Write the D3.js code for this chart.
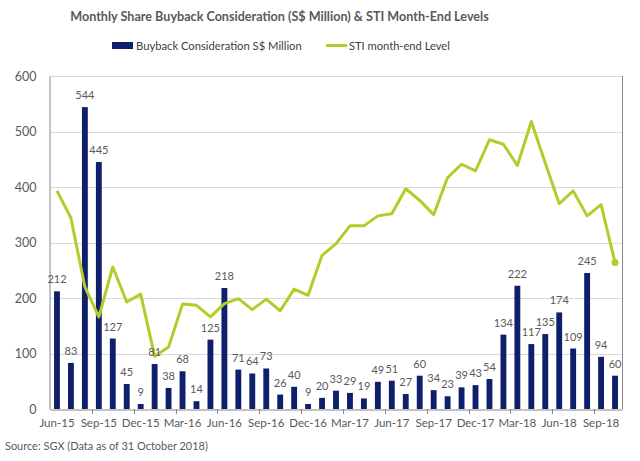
<!DOCTYPE html>
<html><head><meta charset="utf-8">
<script src="https://cdn.jsdelivr.net/npm/d3@7"></script>
<style>body{margin:0;background:#fff} svg{display:block} text{font-family:Lato,'Open Sans',sans-serif}</style>
</head><body><svg id="c" width="640" height="461"></svg>
<script>
const months = ["Jun-15","Jul-15","Aug-15","Sep-15","Oct-15","Nov-15","Dec-15","Jan-16","Feb-16","Mar-16","Apr-16","May-16","Jun-16","Jul-16","Aug-16","Sep-16","Oct-16","Nov-16","Dec-16","Jan-17","Feb-17","Mar-17","Apr-17","May-17","Jun-17","Jul-17","Aug-17","Sep-17","Oct-17","Nov-17","Dec-17","Jan-18","Feb-18","Mar-18","Apr-18","May-18","Jun-18","Jul-18","Aug-18","Sep-18","Oct-18"];
const buyback = [212,83,544,445,127,45,9,81,38,68,14,125,218,71,64,73,26,40,9,20,33,29,19,49,51,27,60,34,23,39,43,54,134,222,117,135,174,109,245,94,60];
const sti = [3317,3203,2913,2787,2997,2850,2883,2622,2661,2841,2836,2787,2843,2864,2818,2862,2813,2904,2878,3046,3095,3170,3170,3212,3221,3326,3277,3217,3373,3429,3401,3532,3513,3424,3609,3434,3263,3317,3212,3259,3016];
const yTicks = [0,100,200,300,400,500,600];
const xTickLabels = months.filter((d,i)=>i%3===0);
const titleText = "Monthly Share Buyback Consideration (S$ Million) & STI Month-End Levels";
const seriesNames = ["Buyback Consideration S$ Million","STI month-end Level"];
const sourceText = "Source: SGX (Data as of 31 October 2018)";

const svg = d3.select("#c");
const L=50, R=622, T=76, B=409;
const barColor="#0f1f6b", lineColor="#b4cc2b", grey="#595959";

const xb = d3.scaleBand().domain(months).range([L,R]).padding(0);
const xbar = d3.scaleBand().domain(months).range([L,R]).paddingInner(0.58).paddingOuter(0.29);
const y = d3.scaleLinear().domain([0,600]).range([B,T]);
const y2 = d3.scaleLinear().domain([2400,3800]).range([B,T]);

function fit(sel,w){const l=sel.node().getComputedTextLength();const fs=parseFloat(sel.attr("font-size"));sel.attr("font-size",fs*w/l);}

// gridlines
svg.append("g").selectAll("line").data(yTicks.filter(d=>d>0)).join("line")
  .attr("x1",L).attr("x2",R).attr("y1",d=>Math.round(y(d))+0.5).attr("y2",d=>Math.round(y(d))+0.5)
  .attr("stroke","#d9d9d9").attr("stroke-width",1);

// y axis
const ya = svg.append("g").attr("transform",`translate(${L-0.5},0)`)
  .call(d3.axisLeft(y).tickValues(yTicks).tickSize(0).tickPadding(13));
ya.select(".domain").attr("stroke","#868686");
ya.selectAll("text").attr("font-size",12.5).attr("fill",grey).attr("font-family","Lato");

// right axis line
svg.append("line").attr("x1",R+0.5).attr("x2",R+0.5).attr("y1",T).attr("y2",B).attr("stroke","#868686");

// bars
svg.append("g").selectAll("rect").data(months).join("rect")
  .attr("x",(d)=>xbar(d)).attr("width",xbar.bandwidth())
  .attr("y",(d,i)=>y(buyback[i])).attr("height",(d,i)=>B-y(buyback[i]))
  .attr("fill",barColor);

// x axis
const xa = svg.append("g").attr("transform",`translate(0,${B+0.5})`)
  .call(d3.axisBottom(xb).tickValues(xTickLabels).tickSize(0).tickPadding(9));
xa.select(".domain").attr("stroke","#868686");
xa.selectAll("text").attr("font-size",11.5).attr("fill",grey).attr("font-family","Lato");
svg.append("g").selectAll("line").data(months.filter((d,i)=>i%3===0&&i>0)).join("line")
  .attr("x1",d=>Math.round(xb(d))+0.5).attr("x2",d=>Math.round(xb(d))+0.5)
  .attr("y1",B).attr("y2",B+5).attr("stroke","#868686");

// line
const line = d3.line().x((d,i)=>xb(months[i])+xb.bandwidth()/2).y(d=>y2(d));
svg.append("path").datum(sti).attr("d",line).attr("fill","none")
  .attr("stroke",lineColor).attr("stroke-width",3).attr("stroke-linejoin","round");
svg.append("circle").attr("cx",xb(months[months.length-1])+xb.bandwidth()/2)
  .attr("cy",y2(sti[sti.length-1])).attr("r",3.5).attr("fill",lineColor);

// bar labels
svg.append("g").selectAll("text").data(months).join("text")
  .attr("x",d=>xbar(d)+xbar.bandwidth()/2).attr("y",(d,i)=>y(buyback[i])-8)
  .attr("text-anchor","middle").attr("font-size",11).attr("fill",grey)
  .text((d,i)=>buyback[i]);

// title
const t = svg.append("text").attr("x",279.5).attr("y",21).attr("text-anchor","middle")
  .attr("font-size",14).attr("font-weight","bold").attr("fill",grey).text(titleText);
fit(t,419);

// legend
svg.append("rect").attr("x",112).attr("y",42).attr("width",21).attr("height",7).attr("fill",barColor);
const l1 = svg.append("text").attr("x",136).attr("y",50).attr("font-size",13).attr("fill","#404040").text(seriesNames[0]);
fit(l1,166);
svg.append("line").attr("x1",326).attr("x2",347).attr("y1",45.5).attr("y2",45.5).attr("stroke",lineColor).attr("stroke-width",3);
const l2 = svg.append("text").attr("x",349).attr("y",50).attr("font-size",13).attr("fill","#404040").text(seriesNames[1]);
fit(l2,101);

// source
const s = svg.append("text").attr("x",5).attr("y",450).attr("font-size",11).attr("fill",grey).text(sourceText);
fit(s,203);
</script></body></html>
